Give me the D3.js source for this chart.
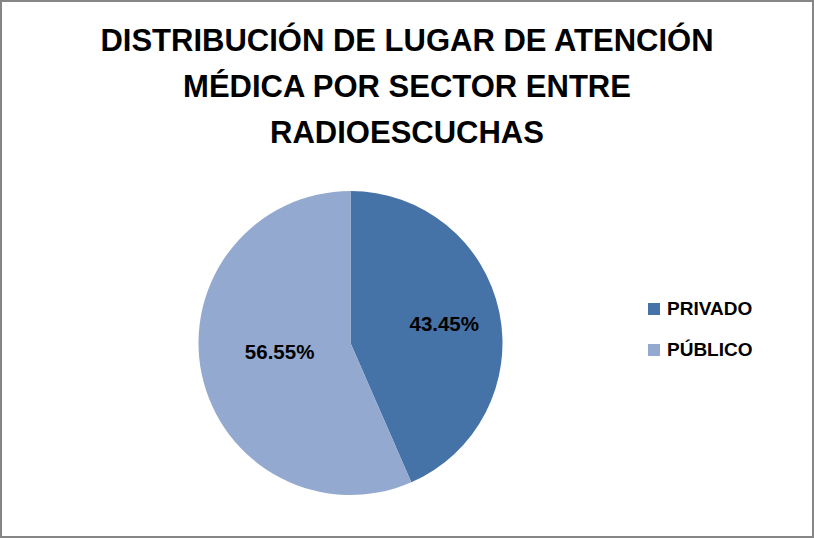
<!DOCTYPE html>
<html>
<head>
<meta charset="utf-8">
<script src="https://cdn.jsdelivr.net/npm/d3@7"></script>
<style>
  body { margin: 0; background: #fff; }
  text { font-family: "Liberation Sans", Arial, sans-serif; font-weight: bold; fill: #000; }
</style>
</head>
<body>
<div id="chart"></div>
<script>
// chart data
var categories = ["PRIVADO", "PÚBLICO"];
var values = [43.45, 56.55];
var titleLines = ["DISTRIBUCIÓN DE LUGAR DE ATENCIÓN", "MÉDICA POR SECTOR ENTRE", "RADIOESCUCHAS"];

var width = 814, height = 538;
var cx = 350.5, cy = 343, radius = 152;
var labelFactor = [0.63, 0.47];

var color = d3.scaleOrdinal()
    .domain(categories)
    .range(["#4572A7", "#93A9CF"]);

var svg = d3.select("#chart")
    .append("svg")
    .attr("width", width)
    .attr("height", height);

svg.append("rect")
    .attr("x", 1)
    .attr("y", 1)
    .attr("width", width - 2)
    .attr("height", height - 2)
    .style("fill", "#fff")
    .style("stroke", "#868686")
    .style("stroke-width", 2);

// title
svg.append("g").selectAll("text")
    .data(titleLines)
    .enter().append("text")
    .attr("x", 407)
    .attr("y", function(d, i) { return 51 + i * 46; })
    .attr("text-anchor", "middle")
    .style("font-size", "31px")
    .text(function(d) { return d; });

// pie
var pie = d3.pie().sort(null);
var arcsData = pie(values);
var arc = d3.arc().innerRadius(0).outerRadius(radius);

var g = svg.append("g")
    .attr("transform", "translate(" + cx + "," + cy + ")");

g.selectAll("path")
    .data(arcsData)
    .enter().append("path")
    .attr("d", arc)
    .style("fill", function(d, i) { return color(categories[i]); });

g.selectAll(".lbl")
    .data(arcsData)
    .enter().append("text")
    .attr("class", "lbl")
    .attr("transform", function(d, i) {
        var r = radius * labelFactor[i];
        var a = (d.startAngle + d.endAngle) / 2;
        if (i == 1) a = a + 0.08;
        return "translate(" + (Math.sin(a) * r) + "," + (-Math.cos(a) * r) + ")";
    })
    .attr("text-anchor", "middle")
    .attr("dy", "0.36em")
    .style("font-size", "20.5px")
    .text(function(d) { return d.data.toFixed(2) + "%"; });

// legend
var legend = svg.append("g")
    .attr("transform", "translate(648,303)");

var item = legend.selectAll("g")
    .data(categories)
    .enter().append("g")
    .attr("transform", function(d, i) { return "translate(0," + (i * 41) + ")"; });

item.append("rect")
    .attr("width", 12)
    .attr("height", 12)
    .style("fill", function(d) { return color(d); });

item.append("text")
    .attr("x", 19)
    .attr("y", 11.5)
    .style("font-size", "19px")
    .text(function(d) { return d; });
</script>
</body>
</html>
